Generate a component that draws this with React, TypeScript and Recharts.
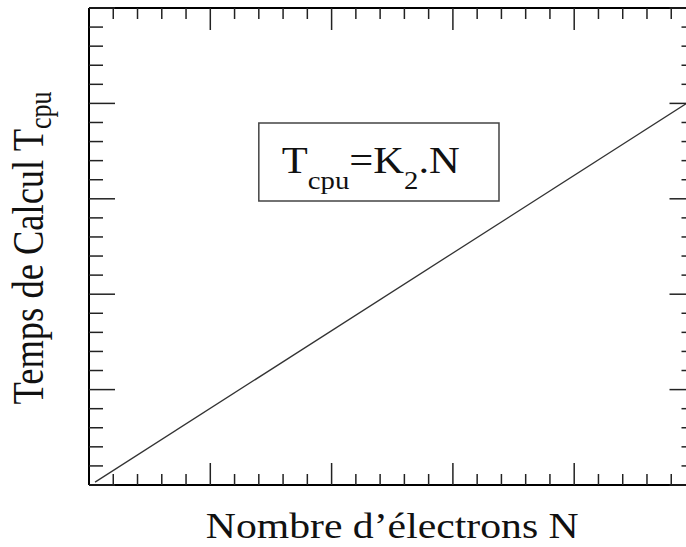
import React from 'react';
import { LineChart, Line, XAxis, YAxis, ReferenceArea } from 'recharts';

// ---- data ----
const LINE_N = [0.05, 5];
const LINE_T = [0.03, 4.06];
const X_MAJOR = [0, 1, 2, 3, 4, 5];
const X_MINOR = [0.2, 0.4, 0.6, 0.8, 1.2, 1.4, 1.6, 1.8, 2.2, 2.4, 2.6, 2.8, 3.2, 3.4, 3.6, 3.8, 4.2, 4.4, 4.6, 4.8];
const Y_MAJOR = [0, 1, 2, 3, 4, 5];
const Y_MINOR = [0.2, 0.4, 0.6, 0.8, 1.2, 1.4, 1.6, 1.8, 2.2, 2.4, 2.6, 2.8, 3.2, 3.4, 3.6, 3.8, 4.2, 4.4, 4.6, 4.8];
const ANNOT_X = [1.4, 3.38];
const ANNOT_Y = [2.977, 3.795];
const X_LABEL = 'Nombre d\u2019électrons N';
const Y_LABEL = 'Temps de Calcul T';
const Y_LABEL_SUB = 'cpu';
const FORMULA = ['T', 'cpu', '=K', '2', '.N'];

const data = LINE_N.map((n, i) => ({ n, t: LINE_T[i] }));

const FONT = '"Liberation Serif", "Times New Roman", serif';
const SX = 1.19;
const THIN = 0.001;

const NoTick = () => <g />;

const XLabel = (props: any) => {
  const vb = props.viewBox || {};
  const cx = vb.x + vb.width / 2;
  const y = vb.y + 53;
  return (
    <text x={cx} y={y} textAnchor="middle" fontFamily={FONT} fontSize={35} fill="#111"
      textLength={373} lengthAdjust="spacingAndGlyphs">
      {X_LABEL}
    </text>
  );
};

const YLabel = (props: any) => {
  const vb = props.viewBox || {};
  const cy = vb.y + vb.height / 2 + 1.5;
  const bx = vb.x - 46;
  return (
    <g transform={`translate(${bx},${cy}) scale(${SX},1) rotate(-90)`}>
      <text x={0} y={0} textAnchor="middle" fontFamily={FONT} fontSize={36.5} fill="#111">
        {Y_LABEL}
        <tspan dy={7} fontSize={26}>{Y_LABEL_SUB}</tspan>
      </text>
    </g>
  );
};

const BoxLabel = (props: any) => {
  const vb = props.viewBox || {};
  const x = vb.x + 23;
  const y = vb.y + 50;
  return (
    <g transform={`translate(${x},${y}) scale(1.15,1)`}>
      <text x={0} y={0} fontFamily={FONT} fontSize={37} fill="#111">
        {FORMULA[0]}
        <tspan dy={16} fontSize={25}>{FORMULA[1]}</tspan>
        <tspan dy={-16}>{FORMULA[2]}</tspan>
        <tspan dy={16} fontSize={25}>{FORMULA[3]}</tspan>
        <tspan dy={-16}>{FORMULA[4]}</tspan>
      </text>
    </g>
  );
};

const axisLine = { stroke: '#000', strokeWidth: 2 };
const tickLine = { stroke: '#222', strokeWidth: 1.5 };

export default function App() {
  return (
    <div style={{ position: 'absolute', left: 0, top: 0, width: 686, height: 547, overflow: 'hidden', background: '#fff' }}>
      <LineChart width={720} height={547} data={data} margin={{ top: 8, left: 89, right: 24.5, bottom: 62 }}>
        <XAxis xAxisId="main" dataKey="n" type="number" domain={[0, 5]} allowDataOverflow orientation="bottom" mirror height={THIN}
          ticks={X_MAJOR} tickSize={22} tick={NoTick} axisLine={axisLine} tickLine={tickLine} interval={0}
          label={{ content: XLabel }} />
        <XAxis xAxisId="bMinor" dataKey="n" type="number" domain={[0, 5]} allowDataOverflow orientation="bottom" mirror height={THIN}
          ticks={X_MINOR} tickSize={11} tick={NoTick} axisLine={false} tickLine={tickLine} interval={0} />
        <XAxis xAxisId="tMajor" dataKey="n" type="number" domain={[0, 5]} allowDataOverflow orientation="top" mirror height={THIN}
          ticks={X_MAJOR} tickSize={22} tick={NoTick} axisLine={axisLine} tickLine={tickLine} interval={0} />
        <XAxis xAxisId="tMinor" dataKey="n" type="number" domain={[0, 5]} allowDataOverflow orientation="top" mirror height={THIN}
          ticks={X_MINOR} tickSize={11} tick={NoTick} axisLine={false} tickLine={tickLine} interval={0} />
        <YAxis yAxisId="main" dataKey="t" type="number" domain={[0, 5]} allowDataOverflow orientation="left" mirror width={THIN}
          ticks={Y_MAJOR} tickSize={26} tick={NoTick} axisLine={axisLine} tickLine={tickLine} interval={0}
          label={{ content: YLabel }} />
        <YAxis yAxisId="lMinor" dataKey="t" type="number" domain={[0, 5]} allowDataOverflow orientation="left" mirror width={THIN}
          ticks={Y_MINOR} tickSize={14} tick={NoTick} axisLine={false} tickLine={tickLine} interval={0} />
        <YAxis yAxisId="rMajor" dataKey="t" type="number" domain={[0, 5]} allowDataOverflow orientation="right" mirror width={THIN}
          ticks={Y_MAJOR} tickSize={26} tick={NoTick} axisLine={axisLine} tickLine={tickLine} interval={0} />
        <YAxis yAxisId="rMinor" dataKey="t" type="number" domain={[0, 5]} allowDataOverflow orientation="right" mirror width={THIN}
          ticks={Y_MINOR} tickSize={14} tick={NoTick} axisLine={false} tickLine={tickLine} interval={0} />
        <ReferenceArea xAxisId="main" yAxisId="main" x1={ANNOT_X[0]} x2={ANNOT_X[1]} y1={ANNOT_Y[0]} y2={ANNOT_Y[1]}
          fill="#fff" fillOpacity={1} stroke="#444" strokeWidth={1.5} ifOverflow="visible"
          label={{ content: BoxLabel }} />
        <Line xAxisId="main" yAxisId="main" dataKey="t" type="linear" stroke="#333" strokeWidth={1.3} dot={false}
          isAnimationActive={false} />
      </LineChart>
    </div>
  );
}
